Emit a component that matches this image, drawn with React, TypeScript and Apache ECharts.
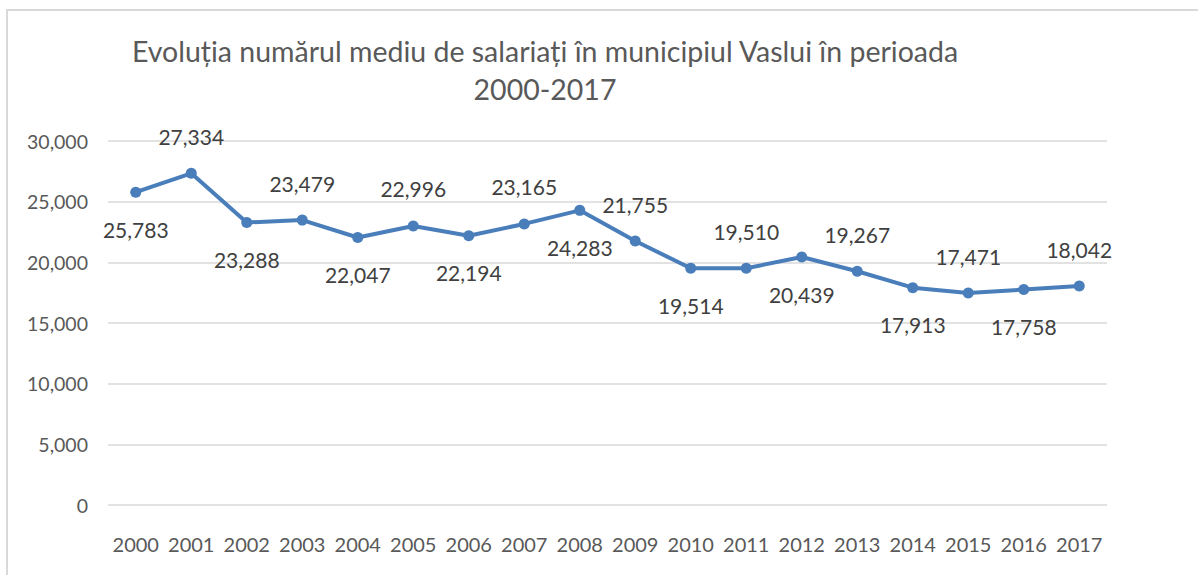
import React, { useEffect, useRef } from "react";
import * as echarts from "echarts";

const years = ["2000","2001","2002","2003","2004","2005","2006","2007","2008","2009","2010","2011","2012","2013","2014","2015","2016","2017"];
const employees = [25783, 27334, 23288, 23479, 22047, 22996, 22194, 23165, 24283, 21755, 19514, 19510, 20439, 19267, 17913, 17471, 17758, 18042];
const titleText = "Evoluția numărul mediu de salariați în municipiul Vaslui în perioada\n2000-2017";

const FONT = "Lato, 'Noto Sans', sans-serif";

export default function App() {
  const ref = useRef<HTMLDivElement>(null);
  useEffect(() => {
    if (!ref.current) return;
    const chart = echarts.init(ref.current, null, { renderer: "svg" });
    const data = employees.map((v, i) => ({
      value: v,
      label: { position: i % 2 === 0 ? "bottom" : "top" },
    }));
    chart.setOption({
      animation: false,
      backgroundColor: "#ffffff",
      title: {
        text: titleText,
        left: 540,
        top: 27,
        textAlign: "center",
        textStyle: {
          fontFamily: FONT,
          fontSize: 28.5,
          fontWeight: "normal",
          color: "#595959",
          lineHeight: 38,
        },
      },
      graphic: [
        {
          type: "rect",
          shape: { x: 7, y: 10, width: 1300, height: 700 },
          style: { fill: "none", stroke: "#D9D9D9", lineWidth: 2 },
          silent: true,
        },
      ],
      grid: { left: 108, right: 91, top: 141, bottom: 70, containLabel: false },
      xAxis: {
        type: "category",
        data: years,
        boundaryGap: true,
        axisLine: { show: false },
        axisTick: { show: false },
        axisLabel: { interval: 0, fontFamily: FONT, fontSize: 20, color: "#595959", margin: 29 },
      },
      yAxis: {
        type: "value",
        min: 0,
        max: 30000,
        interval: 5000,
        axisLine: { show: false },
        axisTick: { show: false },
        splitLine: { lineStyle: { color: "#D9D9D9", width: 1.5 } },
        axisLabel: {
          fontFamily: FONT,
          fontSize: 19.5,
          color: "#595959",
          margin: 20,
          formatter: (v: number) => v.toLocaleString("en-US"),
        },
      },
      series: [
        {
          type: "line",
          data,
          symbol: "circle",
          symbolSize: 11,
          lineStyle: { color: "#4A7EBB", width: 4 },
          itemStyle: { color: "#4A7EBB" },
          label: {
            show: true,
            distance: 21,
            fontFamily: FONT,
            fontSize: 21,
            color: "#404040",
            formatter: (p: any) => Number(p.value).toLocaleString("en-US"),
          },
        },
      ],
    });
    return () => chart.dispose();
  }, []);
  return <div ref={ref} style={{ position: "fixed", left: 0, top: 0, width: 1198, height: 575 }} />;
}
